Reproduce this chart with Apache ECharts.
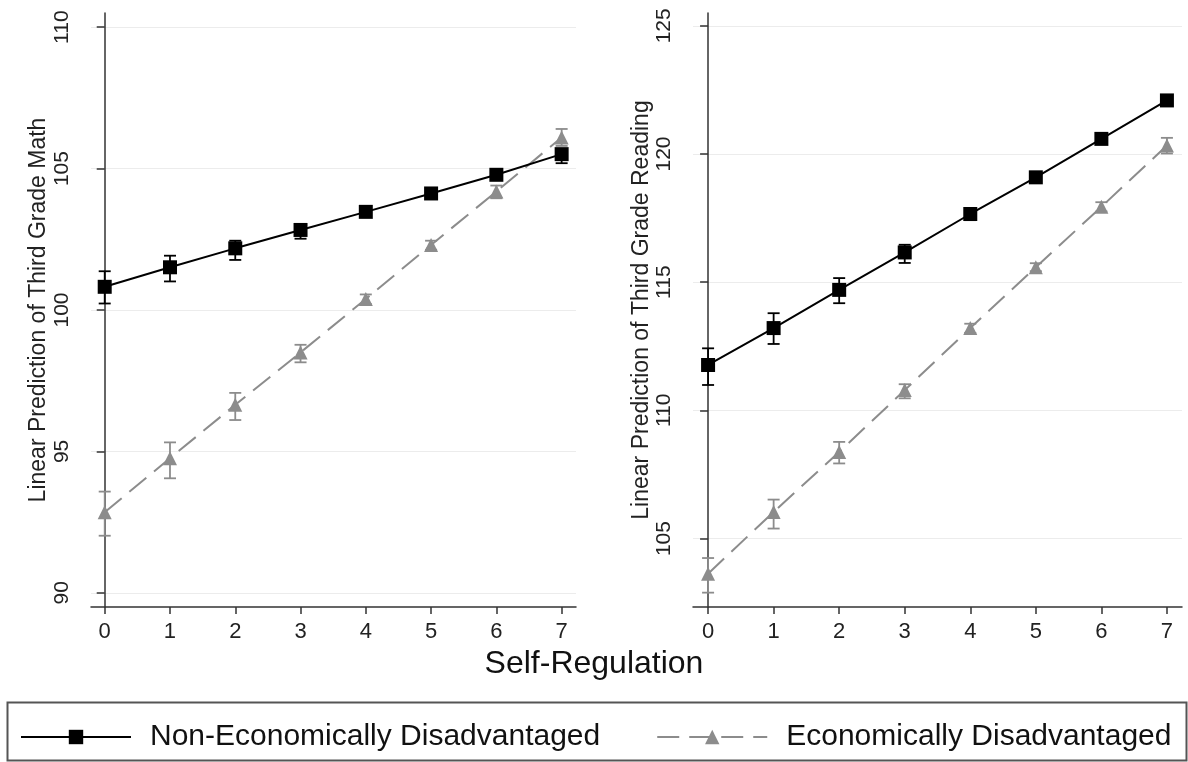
<!DOCTYPE html>
<html>
<head>
<meta charset="utf-8">
<script src="https://cdn.jsdelivr.net/npm/echarts@6/dist/echarts.min.js"></script>
<style>html,body{margin:0;padding:0;background:#fff}#c{width:1188px;height:762px}</style>
</head>
<body>
<div id="c"></div>
<script>
// ---- data ----
const selfRegulation = [0, 1, 2, 3, 4, 5, 6, 7];
const xTickLabels = [0, 1, 2, 3, 4, 5, 6, 7];
const mathTicks = [90, 95, 100, 105, 110];
const readingTicks = [105, 110, 115, 120, 125];
const seriesNames = ['Non-Economically Disadvantaged', 'Economically Disadvantaged'];

const mathNonEcon   = [100.82, 101.51, 102.18, 102.83, 103.47, 104.12, 104.78, 105.51];
const mathNonEconLo = [100.23, 101.01, 101.77, 102.52, 103.33, 104.00, 104.64, 105.19];
const mathNonEconHi = [101.37, 101.92, 102.45, 103.01, 103.61, 104.24, 104.92, 105.69];

const mathEcon   = [92.85, 94.76, 96.65, 98.50, 100.39, 102.30, 104.19, 106.10];
const mathEconLo = [92.02, 94.05, 96.11, 98.15, 100.21, 102.13, 103.95, 105.80];
const mathEconHi = [93.58, 95.32, 97.07, 98.77, 100.55, 102.45, 104.40, 106.40];

const readNonEcon   = [111.77, 113.21, 114.70, 116.16, 117.66, 119.09, 120.59, 122.09];
const readNonEconLo = [110.99, 112.59, 114.18, 115.75, 117.42, 118.92, 120.42, 121.87];
const readNonEconHi = [112.42, 113.79, 115.16, 116.46, 117.87, 119.26, 120.76, 122.26];

const readEcon   = [103.63, 106.04, 108.38, 110.79, 113.21, 115.58, 117.94, 120.33];
const readEconLo = [102.89, 105.39, 107.93, 110.47, 113.02, 115.43, 117.76, 120.02];
const readEconHi = [104.24, 106.52, 108.77, 111.02, 113.38, 115.74, 118.12, 120.63];

// ---- helpers ----
const FONT = 'Liberation Sans, Arial, Helvetica, sans-serif';
const BLACK = '#000000';
const GRAY = '#8c8c8c';
const pts = (ys) => selfRegulation.map((x, i) => [x, ys[i]]);
const bars = (lo, hi) => selfRegulation.map((x, i) => [x, lo[i], hi[i]]);

function errRender(color) {
  return function (params, api) {
    const x = api.value(0);
    const pLo = api.coord([x, api.value(1)]);
    const pHi = api.coord([x, api.value(2)]);
    const w = 6;
    const st = { stroke: color, lineWidth: 1.8 };
    return {
      type: 'group',
      children: [
        { type: 'line', shape: { x1: pHi[0], y1: pHi[1], x2: pLo[0], y2: pLo[1] }, style: st },
        { type: 'line', shape: { x1: pHi[0] - w, y1: pHi[1], x2: pHi[0] + w, y2: pHi[1] }, style: st },
        { type: 'line', shape: { x1: pLo[0] - w, y1: pLo[1], x2: pLo[0] + w, y2: pLo[1] }, style: st }
      ]
    };
  };
}

function xAxisCfg(gi, min, max) {
  return {
    type: 'value', gridIndex: gi, min: min, max: max,
    axisLine: { show: true, lineStyle: { color: '#333', width: 1.5 } },
    axisTick: { show: true, length: 7, customValues: xTickLabels, lineStyle: { color: '#333', width: 1.5 } },
    axisLabel: { customValues: xTickLabels, fontSize: 22, fontFamily: FONT, color: '#222', margin: 14 },
    splitLine: { show: false }
  };
}
function yAxisCfg(gi, min, max, ticks, name, gap) {
  return {
    type: 'value', gridIndex: gi, min: min, max: max,
    name: name, nameLocation: 'middle', nameGap: gap, nameRotate: 90,
    nameTextStyle: { fontSize: 23, fontFamily: FONT, color: '#222' },
    axisLine: { show: true, lineStyle: { color: '#333', width: 1.5 } },
    axisTick: { show: true, length: 8, customValues: ticks, lineStyle: { color: '#333', width: 1.5 } },
    axisLabel: { customValues: ticks, rotate: 90, fontSize: 21, fontFamily: FONT, color: '#222', margin: 18 },
    splitLine: { show: true, lineStyle: { color: '#ececec', width: 1.2 } }
  };
}

function lineSeries(name, gi, data, color, symbol, dashed) {
  return {
    type: 'line', name: name, xAxisIndex: gi, yAxisIndex: gi, data: data,
    symbol: symbol, symbolSize: 14, z: 5,
    itemStyle: { color: color },
    lineStyle: { color: color, width: 2, type: dashed ? [22, 10] : 'solid' },
    emphasis: { disabled: true }, animation: false
  };
}
function errSeries(gi, data, color) {
  return {
    type: 'custom', name: 'err', xAxisIndex: gi, yAxisIndex: gi, data: data,
    renderItem: errRender(color), z: 3, animation: false, silent: true
  };
}

const chart = echarts.init(document.getElementById('c'), null, { renderer: 'canvas' });
chart.setOption({
  backgroundColor: '#ffffff',
  animation: false,
  textStyle: { fontFamily: FONT },
  title: {
    text: 'Self-Regulation', left: 'center', top: 643,
    textStyle: { fontSize: 32, fontWeight: 'normal', fontFamily: FONT, color: '#111' }
  },
  grid: [
    { left: 91, top: 13, width: 485, height: 594 },
    { left: 693, top: 13, width: 489, height: 594 }
  ],
  xAxis: [xAxisCfg(0, -0.21, 7.22), xAxisCfg(1, -0.23, 7.23)],
  yAxis: [
    yAxisCfg(0, 89.5, 110.5, mathTicks, 'Linear Prediction of Third Grade Math', 41),
    yAxisCfg(1, 102.33, 125.5, readingTicks, 'Linear Prediction of Third Grade Reading', 37)
  ],
  graphic: [{
    type: 'rect', left: 5, top: 700, shape: { width: 1179, height: 58 },
    style: { fill: 'none', stroke: '#555', lineWidth: 2 }, z: 0, silent: true
  }],
  legend: {
    data: seriesNames, left: 20, top: 722, padding: 0,
    itemWidth: 110, itemHeight: 18, itemGap: 56,
    textStyle: { fontSize: 30, fontFamily: FONT, color: '#111', padding: [0, 0, 0, 14] },
    selectedMode: false
  },
  series: [
    errSeries(0, bars(mathNonEconLo, mathNonEconHi), BLACK),
    errSeries(0, bars(mathEconLo, mathEconHi), GRAY),
    lineSeries(seriesNames[1], 0, pts(mathEcon), GRAY, 'triangle', true),
    lineSeries(seriesNames[0], 0, pts(mathNonEcon), BLACK, 'rect', false),
    errSeries(1, bars(readNonEconLo, readNonEconHi), BLACK),
    errSeries(1, bars(readEconLo, readEconHi), GRAY),
    lineSeries(seriesNames[1], 1, pts(readEcon), GRAY, 'triangle', true),
    lineSeries(seriesNames[0], 1, pts(readNonEcon), BLACK, 'rect', false)
  ]
});
</script>
</body>
</html>
